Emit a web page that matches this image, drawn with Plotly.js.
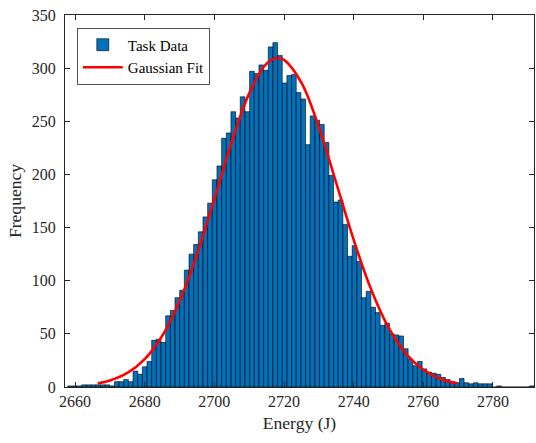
<!DOCTYPE html>
<html>
<head>
<meta charset="utf-8">
<script src="https://cdn.plot.ly/plotly-3.0.1.min.js"></script>
<style>
  html, body { margin: 0; padding: 0; background: #ffffff; }
  #chart { width: 536px; height: 443px; }
</style>
</head>
<body>
<div id="chart"></div>
<script>
// Histogram: 100 bins starting at binStart with width binWidth
var binStart = 2657.9;
var binWidth = 1.339;
var counts = [
  1, 1, 1, 2, 2, 2, 2, 2, 2, 1,
  5, 5, 7, 5, 15, 12, 19, 24, 44, 45,
  42, 67, 72, 84, 91, 110, 125, 134, 146, 160,
  173, 195, 208, 234, 239, 259, 253, 273, 259, 297,
  295, 303, 298, 320, 324, 312, 286, 293, 294, 277,
  271, 228, 255, 251, 247, 230, 199, 174, 176, 153,
  123, 133, 118, 84, 90, 75, 70, 58, 60, 50,
  49, 48, 36, 26, 20, 24, 17, 14, 13, 12,
  9, 7, 5, 4, 8, 4, 3, 4, 3, 3,
  3, 0, 1, 0, 0, 0, 0, 0, 0, 1
];

// Gaussian fit curve
var fitX = [2666.5, 2670, 2675, 2680, 2685, 2690, 2695, 2700, 2705, 2710, 2715, 2718, 2720, 2725, 2730, 2735, 2740, 2745, 2750, 2755, 2760, 2765, 2769.8];
var fitY = [3.4, 6.1, 13.2, 26.3, 48.0, 80.7, 124.6, 176.8, 230.6, 276.3, 304.2, 309.5, 307.8, 286.3, 244.6, 192.1, 138.6, 91.9, 56.0, 31.4, 16.2, 7.6, 3.4];

var xTicks = [2660, 2680, 2700, 2720, 2740, 2760, 2780];
var yTicks = [0, 50, 100, 150, 200, 250, 300, 350];

var centers = counts.map(function (c, i) { return binStart + (i + 0.5) * binWidth; });

var serif = 'Liberation Serif';
var axisColor = '#262626';

var traces = [
  {
    type: 'bar',
    name: 'Task Data',
    x: centers,
    y: counts,
    width: binWidth,
    marker: { color: '#0072BD', line: { color: '#000000', width: 0.6 } },
    hoverinfo: 'x+y'
  },
  {
    type: 'scatter',
    mode: 'lines',
    name: 'Gaussian Fit',
    x: fitX,
    y: fitY,
    line: { color: '#FF0000', width: 2.6, shape: 'spline' }
  }
];

var layout = {
  width: 536,
  height: 443,
  margin: { l: 65, r: 2, t: 14.5, b: 55.5 },
  paper_bgcolor: '#ffffff',
  plot_bgcolor: '#ffffff',
  showlegend: true,
  bargap: 0,
  font: { family: serif, size: 16, color: axisColor },
  xaxis: {
    range: [2657.1, 2791.8],
    tickvals: xTicks,
    ticktext: xTicks.map(String),
    ticks: 'inside',
    ticklen: 5,
    tickwidth: 1,
    tickcolor: axisColor,
    showline: true,
    linecolor: axisColor,
    linewidth: 1,
    mirror: 'ticks',
    showgrid: false,
    zeroline: false,
    tickfont: { family: serif, size: 16, color: axisColor },
    title: { text: 'Energy (J)', font: { family: serif, size: 17.6, color: axisColor }, standoff: 7 }
  },
  yaxis: {
    range: [0, 350],
    tickvals: yTicks,
    ticktext: yTicks.map(String),
    ticks: 'inside',
    ticklen: 5,
    tickwidth: 1,
    tickcolor: axisColor,
    showline: true,
    linecolor: axisColor,
    linewidth: 1,
    mirror: 'ticks',
    showgrid: false,
    zeroline: false,
    ticklabelstandoff: 5,
    tickfont: { family: serif, size: 16, color: axisColor },
    title: { text: 'Frequency', font: { family: serif, size: 17.6, color: axisColor }, standoff: 5 }
  },
  legend: {
    x: 0.0256,
    y: 0.966,
    xanchor: 'left',
    yanchor: 'top',
    bgcolor: '#ffffff',
    bordercolor: axisColor,
    borderwidth: 0.8,
    traceorder: 'normal',
    itemwidth: 40,
    tracegroupgap: 0,
    font: { family: serif, size: 15, color: '#000000' }
  }
};

Plotly.newPlot('chart', traces, layout, { staticPlot: true, displayModeBar: false });
</script>
</body>
</html>
